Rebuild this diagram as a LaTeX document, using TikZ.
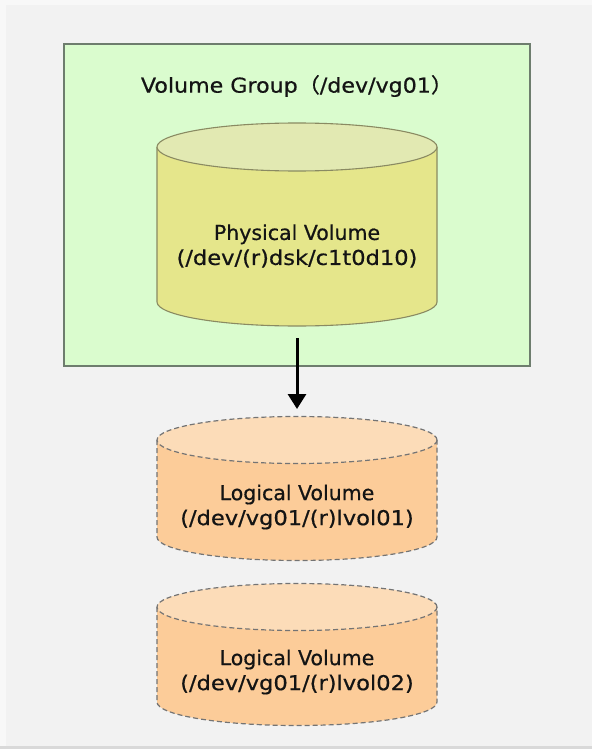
\documentclass[tikz,border=0pt]{standalone}
\usepackage{fontspec}
\usepackage{graphicx}
\setmainfont{DejaVu Sans}
\newfontfamily\lblfont{DejaVu Sans}[FakeBold=0.6]
\newfontfamily\cjk{Noto Sans CJK JP}[FakeBold=0.6]
\usetikzlibrary{arrows.meta}
\definecolor{bgcol}{HTML}{F2F2F2}
\definecolor{bgedge}{HTML}{F8F8F8}
\definecolor{bgline}{HTML}{D9D9D9}
\definecolor{vgfill}{HTML}{DAFCCE}
\definecolor{vgdraw}{HTML}{6E7D6E}
\definecolor{pvbody}{HTML}{E5E68B}
\definecolor{pvtop}{HTML}{E2E9B2}
\definecolor{pvdraw}{HTML}{8A8A62}
\definecolor{lvbody}{HTML}{FCCC99}
\definecolor{lvtop}{HTML}{FCDCB8}
\definecolor{lvdraw}{HTML}{747474}
\definecolor{txt}{HTML}{141414}
\tikzset{
  lbl/.style={text=txt, align=center, inner sep=0pt,
    font=\lblfont\fontsize{20.5}{25}\selectfont},
  vgbox/.style={fill=vgfill, draw=vgdraw, line width=1.8pt},
  pvstyle/.style={draw=pvdraw, line width=1.1pt},
  lvstyle/.style={draw=lvdraw, line width=1.2pt, dash pattern=on 5pt off 3pt},
  flow/.style={line width=3pt, -{Triangle[length=15pt,width=18pt]}},
}
\begin{document}
\begin{tikzpicture}[x=1pt,y=-1pt]
\useasboundingbox (0,0) rectangle (592,749);
% background
\fill[bgedge] (0,0) rectangle (592,749);
\fill[bgcol] (6,5) rectangle (592,746);
\fill[bgline] (0,746) rectangle (592,749);
% volume group box
\node[vgbox, minimum width=466pt, minimum height=322pt, inner sep=0pt, anchor=north west] (vg) at (63,43) {};
% physical volume cylinder
\path[fill=pvbody] (157,147) -- (157,302) arc[start angle=180, end angle=360, x radius=140pt, y radius=24pt] -- (437,147) -- cycle;
\draw[pvstyle] (157,147) -- (157,302) arc[start angle=180, end angle=360, x radius=140pt, y radius=24pt] -- (437,147);
\draw[pvstyle, fill=pvtop] (297,147) ellipse[x radius=140pt, y radius=24pt];
% logical volume 1
\path[fill=lvbody] (157,440) -- (157,537) arc[start angle=180, end angle=360, x radius=140pt, y radius=23.5pt] -- (437,440) -- cycle;
\draw[lvstyle] (157,440) -- (157,537) arc[start angle=180, end angle=360, x radius=140pt, y radius=23.5pt] -- (437,440);
\draw[lvstyle, fill=lvtop] (297,440) ellipse[x radius=140pt, y radius=23.5pt];
% logical volume 2
\path[fill=lvbody] (157,607) -- (157,702) arc[start angle=180, end angle=360, x radius=140pt, y radius=23.5pt] -- (437,607) -- cycle;
\draw[lvstyle] (157,607) -- (157,702) arc[start angle=180, end angle=360, x radius=140pt, y radius=23.5pt] -- (437,607);
\draw[lvstyle, fill=lvtop] (297,607) ellipse[x radius=140pt, y radius=23.5pt];
% labels
\node[lbl] (vgl) at (297,86) {\scalebox{1.08}[1]{Volume Group{\cjk （}/dev/vg01{\cjk ）}}};
\node[lbl] (pvl) at (297,246) {Physical Volume\\\scalebox{1.1}[1]{(/dev/(r)dsk/c1t0d10)}};
\node[lbl] (lv1l) at (297,507) {Logical Volume\\\scalebox{1.1}[1]{(/dev/vg01/(r)lvol01)}};
\node[lbl] (lv2l) at (297,672) {Logical Volume\\\scalebox{1.1}[1]{(/dev/vg01/(r)lvol02)}};
% arrow
\coordinate (arrS) at (297,338);
\coordinate (arrE) at (297,409);
\draw[flow] (arrS) -- (arrE);
\end{tikzpicture}
\end{document}
